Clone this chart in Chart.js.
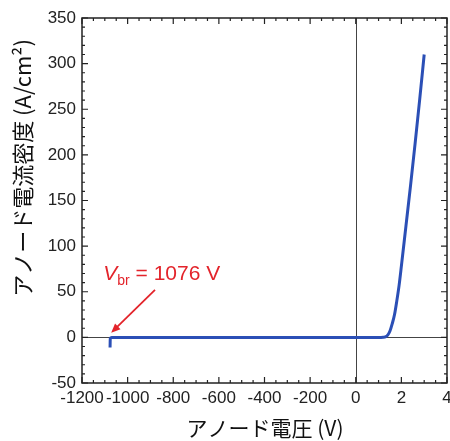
<!DOCTYPE html>
<html>
<head>
<meta charset="utf-8">
<script src="https://cdn.jsdelivr.net/npm/chart.js@4.4.1/dist/chart.umd.min.js"></script>
<style>
  html, body { margin: 0; padding: 0; background: #fff; }
  #wrap { width: 450px; height: 441px; }
</style>
</head>
<body>
<div id="wrap"><canvas id="c" width="450" height="441"></canvas></div>
<script>
// reverse branch (V) and forward branch (V), current density in A/cm2
const reverseV = [-1077, -1076, -1070, -1000, -800, -600, -400, -200, 0];
const reverseJ = [-11, -1, 0, 0, 0, 0, 0, 0, 0];
const forwardV = [0.5, 1.0, 1.2, 1.3, 1.4, 1.5, 1.6, 1.7, 1.8, 1.9, 2.0, 2.2, 2.4, 2.6, 2.8, 3.0];
const forwardJ = [0, 0, 0.2, 0.6, 2.5, 7, 15, 25, 40, 57, 78, 122, 166, 212, 260, 310];

const xTicks = [-1200, -1000, -800, -600, -400, -200, 0, 2, 4];
const yTicks = [-50, 0, 50, 100, 150, 200, 250, 300, 350];

const VBR = 1076;
const FWD_SCALE = 100; // right-hand part: 1 V drawn as wide as 100 V on the left

const FONT = '"Liberation Sans", Arial, "Noto Sans CJK JP", sans-serif';
const JP_FONT = '"Noto Sans CJK JP", "Liberation Sans", sans-serif';

const toAxis = v => v > 0 ? v * FWD_SCALE : v;
const fromAxis = u => u > 0 ? u / FWD_SCALE : u;

const points = [
  ...reverseV.map((v, i) => ({ x: toAxis(v), y: reverseJ[i] })),
  ...forwardV.map((v, i) => ({ x: toAxis(v), y: forwardJ[i] })),
];

const frame = {
  id: 'frame',
  beforeDatasetsDraw(chart) {
    const { ctx, chartArea: a, scales: { x, y } } = chart;
    ctx.save();
    // zero lines
    ctx.strokeStyle = '#444';
    ctx.lineWidth = 1;
    ctx.beginPath();
    const y0 = Math.round(y.getPixelForValue(0)) + 0.5;
    const x0 = Math.round(x.getPixelForValue(0)) + 0.5;
    ctx.moveTo(a.left, y0); ctx.lineTo(a.right, y0);
    ctx.moveTo(x0, a.top); ctx.lineTo(x0, a.bottom);
    ctx.stroke();
    ctx.restore();
  },
  afterDatasetsDraw(chart) {
    const { ctx, chartArea: a, scales: { x, y } } = chart;
    ctx.save();
    ctx.strokeStyle = '#222';
    ctx.lineWidth = 1.5;
    ctx.strokeRect(a.left, a.top, a.right - a.left, a.bottom - a.top);

    // inward ticks on all four sides
    ctx.lineWidth = 1.2;
    ctx.beginPath();
    for (let u = -1200; u <= 400; u += 50) {
      const px = x.getPixelForValue(u);
      const len = u % 200 === 0 ? 6 : 3;
      ctx.moveTo(px, a.bottom); ctx.lineTo(px, a.bottom - len);
      ctx.moveTo(px, a.top); ctx.lineTo(px, a.top + len);
    }
    for (let v = -50; v <= 350; v += 10) {
      const py = y.getPixelForValue(v);
      const len = v % 50 === 0 ? 6 : 3;
      ctx.moveTo(a.left, py); ctx.lineTo(a.left + len, py);
      ctx.moveTo(a.right, py); ctx.lineTo(a.right - len, py);
    }
    ctx.stroke();

    // axis titles
    ctx.fillStyle = '#111';
    ctx.font = '21px ' + JP_FONT;
    ctx.textAlign = 'center';
    ctx.textBaseline = 'middle';
    ctx.fillText('アノード電圧 (V)', 265, 428);

    ctx.save();
    ctx.translate(23, 168);
    ctx.rotate(-Math.PI / 2);
    ctx.font = '22px ' + JP_FONT;
    ctx.fillText('アノード電流密度 (A/cm²)', 0, 0);
    ctx.restore();

    // breakdown annotation
    const red = '#e3242b';
    ctx.fillStyle = red;
    ctx.strokeStyle = red;
    ctx.textAlign = 'left';
    ctx.textBaseline = 'alphabetic';
    let tx = x.getPixelForValue(-VBR) - 7;
    const ty = y.getPixelForValue(63);
    ctx.font = 'italic 21px ' + FONT;
    ctx.fillText('V', tx, ty);
    tx += ctx.measureText('V').width;
    ctx.font = '14px ' + FONT;
    ctx.fillText('br', tx, ty + 5);
    tx += ctx.measureText('br').width;
    ctx.font = '21px ' + FONT;
    ctx.fillText(' = ' + VBR + ' V', tx, ty);

    const sx = x.getPixelForValue(-880), sy = y.getPixelForValue(52);
    const ex = x.getPixelForValue(-1072), ey = y.getPixelForValue(5);
    const ang = Math.atan2(ey - sy, ex - sx);
    const head = 10;
    ctx.lineWidth = 1.8;
    ctx.beginPath();
    ctx.moveTo(sx, sy);
    ctx.lineTo(ex - Math.cos(ang) * head * 0.8, ey - Math.sin(ang) * head * 0.8);
    ctx.stroke();
    ctx.beginPath();
    ctx.moveTo(ex, ey);
    ctx.lineTo(ex - head * Math.cos(ang - 0.4), ey - head * Math.sin(ang - 0.4));
    ctx.lineTo(ex - head * Math.cos(ang + 0.4), ey - head * Math.sin(ang + 0.4));
    ctx.closePath();
    ctx.fill();
    ctx.restore();
  },
};

new Chart(document.getElementById('c'), {
  type: 'scatter',
  data: {
    datasets: [{
      data: points,
      showLine: true,
      borderColor: '#2b4fb6',
      borderWidth: 3,
      pointRadius: 0,
      cubicInterpolationMode: 'monotone',
      tension: 0.4,
    }],
  },
  options: {
    responsive: false,
    animation: false,
    layout: { padding: { top: 18, right: 3, left: 0, bottom: 0 } },
    plugins: { legend: { display: false }, tooltip: { enabled: false } },
    scales: {
      x: {
        type: 'linear',
        min: -1200,
        max: 400,
        afterBuildTicks: s => { s.ticks = xTicks.map(t => ({ value: toAxis(t) })); },
        afterFit: s => { s.height = 58; s.paddingLeft = 0; s.paddingRight = 0; },
        grid: { display: false, tickLength: 0 },
        border: { display: false },
        ticks: {
          color: '#222',
          font: { family: FONT, size: 17 },
          padding: 5,
          maxRotation: 0,
          autoSkip: false,
          callback: u => String(fromAxis(u)),
        },
      },
      y: {
        type: 'linear',
        min: -50,
        max: 350,
        afterBuildTicks: s => { s.ticks = yTicks.map(t => ({ value: t })); },
        afterFit: s => { s.width = 82; s.paddingTop = 0; s.paddingBottom = 0; },
        grid: { display: false, tickLength: 0 },
        border: { display: false },
        ticks: {
          color: '#222',
          font: { family: FONT, size: 17 },
          padding: 6,
        },
      },
    },
  },
  plugins: [frame],
});
</script>
</body>
</html>
